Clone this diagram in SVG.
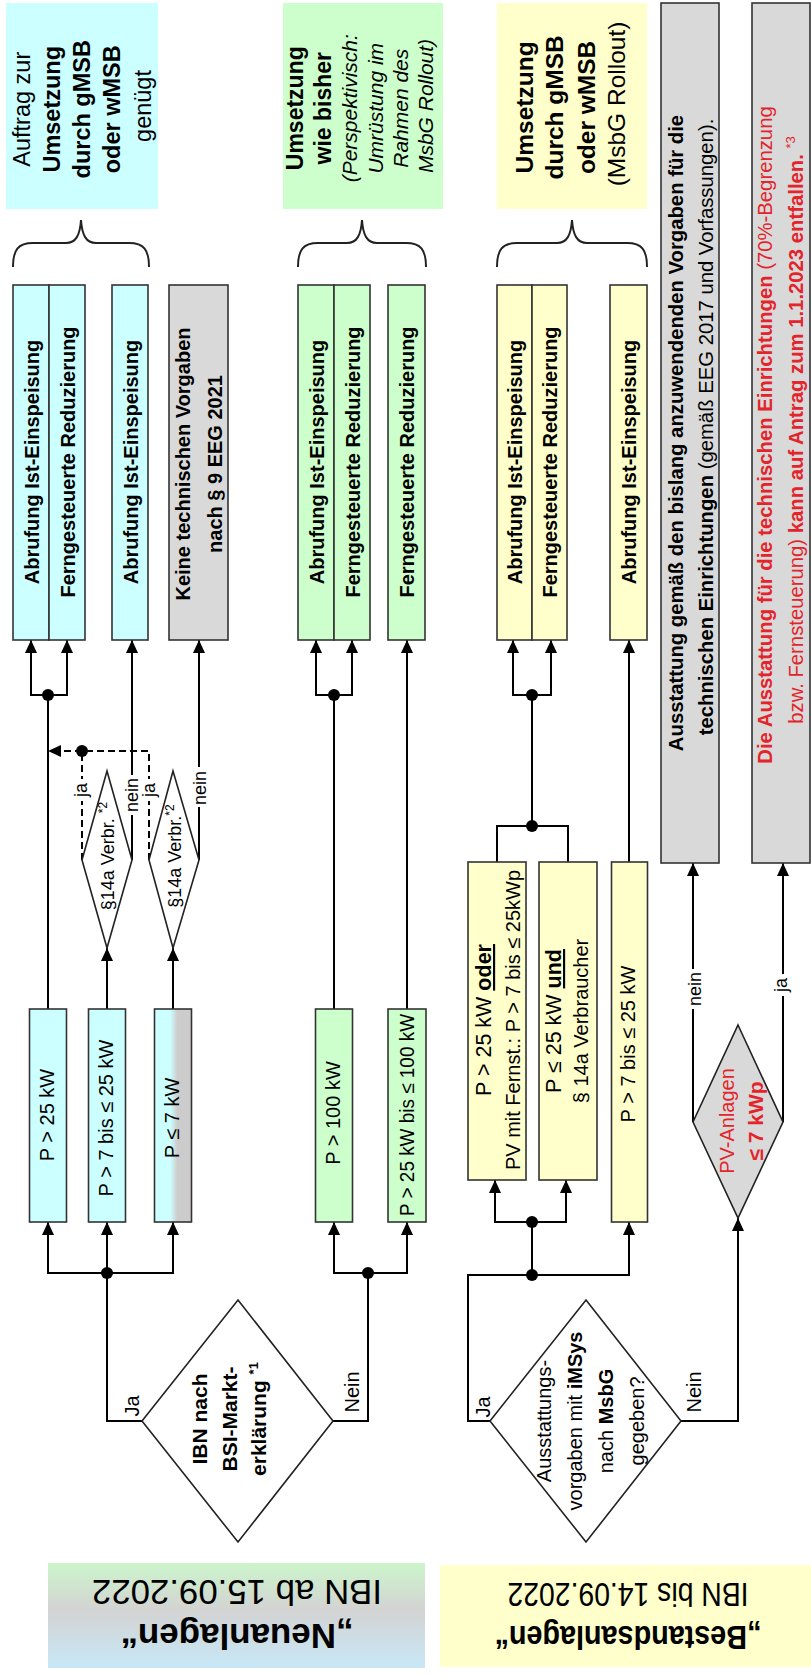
<svg xmlns="http://www.w3.org/2000/svg" width="811" height="1675" viewBox="0 0 811 1675">
<defs>
<style>
.t{font-family:"Liberation Sans",Arial,Helvetica,sans-serif;fill:#000}
.b{font-weight:bold}
.i{font-style:italic}
.r{fill:#e3242b}
.bx{stroke:#333;stroke-width:1.6}
.cy{fill:#ccffff}.gn{fill:#ccffcc}.ye{fill:#ffffcc}.gy{fill:#d9d9d9}
.ln{stroke:#000;stroke-width:2;fill:none}
.ar{marker-end:url(#ah)}
.ds{stroke-dasharray:7,4}
.dt{fill:#000}
.dm{stroke:#222;stroke-width:1.6;fill:#fff}
.wb{fill:#fff}
.br{stroke:#222;stroke-width:2;fill:none}
</style>
<marker id="ah" viewBox="0 0 13 12" refX="13" refY="6" markerWidth="13" markerHeight="12" markerUnits="userSpaceOnUse" orient="auto">
<path d="M0,0 L13,6 L0,12 z" fill="#000"/>
</marker>
<linearGradient id="gNeu" x1="0" y1="0" x2="0" y2="1">
<stop offset="0" stop-color="#ccf5cc"/>
<stop offset="0.45" stop-color="#d3d3d3"/>
<stop offset="1" stop-color="#c8e8f7"/>
</linearGradient>
<linearGradient id="gP7" x1="0" y1="0" x2="1" y2="0">
<stop offset="0" stop-color="#ccffff"/>
<stop offset="0.42" stop-color="#ccffff"/>
<stop offset="0.62" stop-color="#cccccc"/>
<stop offset="1" stop-color="#cccccc"/>
</linearGradient>
</defs>
<rect x="0" y="0" width="811" height="1675" fill="#fff"/>

<!-- Connectors -->
<g id="connectors">
<!-- Neuanlagen Ja branch -->
<path class="ln" d="M142,1421 H107 V1273"/>
<path class="ln ar" d="M107,1273 H48 V1222"/>
<path class="ln ar" d="M107,1273 V1222"/>
<path class="ln ar" d="M107,1273 H173 V1222"/>
<circle class="dt" cx="107" cy="1273" r="6"/>
<path class="ln" d="M48,1009 V695"/>
<path class="ln ar" d="M48,695 H31 V640"/>
<path class="ln ar" d="M48,695 H67 V640"/>
<circle class="dt" cx="48" cy="695" r="6"/>
<path class="ln ar" d="M107,1009 V948"/>
<path class="ln ar" d="M173,1009 V948"/>
<path class="ln ds" d="M82,860 V751"/>
<path class="ln ds ar" d="M149,860 V751 H48"/>
<circle class="dt" cx="82" cy="751" r="6"/>
<path class="ln ar" d="M132,860 V640"/>
<path class="ln ar" d="M199,860 V640"/>
<!-- Neuanlagen Nein branch -->
<path class="ln" d="M333,1421 H368 V1273"/>
<path class="ln ar" d="M368,1273 H334 V1222"/>
<path class="ln ar" d="M368,1273 H407 V1222"/>
<circle class="dt" cx="368" cy="1273" r="6"/>
<path class="ln" d="M334,1009 V695"/>
<path class="ln ar" d="M334,695 H316 V640"/>
<path class="ln ar" d="M334,695 H352 V640"/>
<circle class="dt" cx="334" cy="695" r="6"/>
<path class="ln ar" d="M407,1009 V640"/>
<!-- Bestandsanlagen Ja branch -->
<path class="ln ar" d="M490,1421 H468 V1275 H629 V1222"/>
<circle class="dt" cx="532" cy="1275" r="6"/>
<path class="ln" d="M532,1275 V1222"/>
<path class="ln ar" d="M532,1222 H495 V1180"/>
<path class="ln ar" d="M532,1222 H566 V1180"/>
<circle class="dt" cx="532" cy="1222" r="6"/>
<path class="ln" d="M497,862 V826 H568 V862"/>
<path class="ln" d="M532,826 V695"/>
<circle class="dt" cx="532" cy="826" r="6"/>
<path class="ln ar" d="M532,695 H513 V640"/>
<path class="ln ar" d="M532,695 H551 V640"/>
<circle class="dt" cx="532" cy="695" r="6"/>
<path class="ln ar" d="M629,862 V640"/>
<!-- Bestandsanlagen Nein branch -->
<path class="ln ar" d="M681,1421 H738 V1218"/>
<path class="ln ar" d="M693,1122 V863"/>
<path class="ln ar" d="M783,1122 V863"/>
<!-- labels -->
<text class="t" font-size="20" text-anchor="middle" transform="translate(0,1406) rotate(-90)"><tspan x="0" y="139">Ja</tspan></text>
<text class="t" font-size="20" text-anchor="middle" transform="translate(0,1392) rotate(-90)"><tspan x="0" y="359">Nein</tspan></text>
<text class="t" font-size="20" text-anchor="middle" transform="translate(0,1407) rotate(-90)"><tspan x="0" y="490">Ja</tspan></text>
<text class="t" font-size="20" text-anchor="middle" transform="translate(0,1392) rotate(-90)"><tspan x="0" y="701">Nein</tspan></text>
<rect class="wb" x="74" y="779" width="17" height="22"/>
<text class="t" font-size="18" text-anchor="middle" transform="translate(0,790) rotate(-90)"><tspan x="0" y="87">ja</tspan></text>
<rect class="wb" x="126" y="775" width="15" height="40"/>
<text class="t" font-size="18" text-anchor="middle" transform="translate(0,795) rotate(-90)"><tspan x="0" y="138">nein</tspan></text>
<rect class="wb" x="143" y="779" width="16" height="22"/>
<text class="t" font-size="18" text-anchor="middle" transform="translate(0,790) rotate(-90)"><tspan x="0" y="155">ja</tspan></text>
<rect class="wb" x="193" y="767" width="15" height="40"/>
<text class="t" font-size="18" text-anchor="middle" transform="translate(0,788) rotate(-90)"><tspan x="0" y="206">nein</tspan></text>
<rect class="wb" x="686" y="969" width="17" height="40"/>
<text class="t" font-size="18" text-anchor="middle" transform="translate(0,989) rotate(-90)"><tspan x="0" y="701">nein</tspan></text>
<rect class="wb" x="774" y="974" width="16" height="22"/>
<text class="t" font-size="18" text-anchor="middle" transform="translate(0,985) rotate(-90)"><tspan x="0" y="787">ja</tspan></text>
</g>

<!-- Braces -->
<g id="braces">
<path class="br" d="M13,267 C13,250 18,243 33,243 L66,243 C76,243 80,235 81,220 C82,235 86,243 96,243 L129,243 C144,243 149,250 149,267"/>
<path class="br" d="M298,267 C298,250 303,243 318,243 L347,243 C357,243 361,235 362,220 C363,235 367,243 377,243 L406,243 C421,243 426,250 426,267"/>
<path class="br" d="M497,267 C497,250 502,243 517,243 L557,243 C567,243 571,235 572,220 C573,235 577,243 587,243 L627,243 C642,243 647,250 647,267"/>
</g>

<!-- Top labels -->
<g id="label-cyan">
<rect x="6" y="3" width="152" height="206" class="cy"/>
<text class="t" font-size="23.5" text-anchor="middle" transform="translate(0,106) rotate(-90)">
<tspan x="0" y="30">Auftrag zur</tspan>
<tspan x="0" y="60" class="b">Umsetzung</tspan>
<tspan x="0" y="90" class="b">durch gMSB</tspan>
<tspan x="0" y="120" class="b">oder wMSB</tspan>
<tspan x="0" y="151">genügt</tspan>
</text>
</g>
<g id="label-green">
<rect x="283" y="3" width="160" height="206" class="gn"/>
<text class="t" text-anchor="middle" transform="translate(0,106) rotate(-90)">
<tspan x="0" y="303" class="b" font-size="23">Umsetzung</tspan>
<tspan x="0" y="331" class="b" font-size="23">wie bisher</tspan>
<tspan x="0" y="357" class="i" font-size="21">(Perspektivisch:</tspan>
<tspan x="0" y="383" class="i" font-size="21">Umrüstung im</tspan>
<tspan x="0" y="408" class="i" font-size="21">Rahmen des</tspan>
<tspan x="0" y="433" class="i" font-size="21">MsbG Rollout)</tspan>
</text>
</g>
<g id="label-yellow">
<rect x="497" y="3" width="150" height="206" class="ye"/>
<text class="t" font-size="24.5" text-anchor="middle" transform="translate(0,104) rotate(-90)">
<tspan x="0" y="533" class="b">Umsetzung</tspan>
<tspan x="0" y="563" class="b">durch gMSB</tspan>
<tspan x="0" y="595" class="b">oder wMSB</tspan>
<tspan x="0" y="625">(MsbG Rollout)</tspan>
</text>
</g>

<!-- Outcome boxes -->
<g id="out-cyan-abruf1"><rect class="bx cy" x="13" y="285" width="36" height="355"/>
<text class="t b" font-size="20" text-anchor="middle" transform="translate(0,462) rotate(-90)"><tspan x="0" y="38.5">Abrufung Ist-Einspeisung</tspan></text></g>
<g id="out-cyan-fern1"><rect class="bx cy" x="49" y="285" width="36" height="355"/>
<text class="t b" font-size="20" text-anchor="middle" transform="translate(0,462) rotate(-90)"><tspan x="0" y="74.5">Ferngesteuerte Reduzierung</tspan></text></g>
<g id="out-cyan-abruf2"><rect class="bx cy" x="112" y="285" width="36" height="355"/>
<text class="t b" font-size="20" text-anchor="middle" transform="translate(0,462) rotate(-90)"><tspan x="0" y="137.5">Abrufung Ist-Einspeisung</tspan></text></g>
<g id="out-keine"><rect class="bx gy" x="169" y="285" width="59" height="355"/>
<text class="t b" font-size="20" text-anchor="middle" transform="translate(0,464) rotate(-90)"><tspan x="0" y="190">Keine technischen Vorgaben</tspan><tspan x="0" y="222">nach § 9 EEG 2021</tspan></text></g>
<g id="out-green-abruf"><rect class="bx gn" x="298" y="285" width="36" height="355"/>
<text class="t b" font-size="20" text-anchor="middle" transform="translate(0,462) rotate(-90)"><tspan x="0" y="323.5">Abrufung Ist-Einspeisung</tspan></text></g>
<g id="out-green-fern1"><rect class="bx gn" x="334" y="285" width="36" height="355"/>
<text class="t b" font-size="20" text-anchor="middle" transform="translate(0,462) rotate(-90)"><tspan x="0" y="359.5">Ferngesteuerte Reduzierung</tspan></text></g>
<g id="out-green-fern2"><rect class="bx gn" x="388" y="285" width="37" height="355"/>
<text class="t b" font-size="20" text-anchor="middle" transform="translate(0,462) rotate(-90)"><tspan x="0" y="414">Ferngesteuerte Reduzierung</tspan></text></g>
<g id="out-yellow-abruf1"><rect class="bx ye" x="497" y="285" width="35" height="355"/>
<text class="t b" font-size="20" text-anchor="middle" transform="translate(0,462) rotate(-90)"><tspan x="0" y="522">Abrufung Ist-Einspeisung</tspan></text></g>
<g id="out-yellow-fern"><rect class="bx ye" x="532" y="285" width="35" height="355"/>
<text class="t b" font-size="20" text-anchor="middle" transform="translate(0,462) rotate(-90)"><tspan x="0" y="557">Ferngesteuerte Reduzierung</tspan></text></g>
<g id="out-yellow-abruf2"><rect class="bx ye" x="610" y="285" width="37" height="355"/>
<text class="t b" font-size="20" text-anchor="middle" transform="translate(0,462) rotate(-90)"><tspan x="0" y="636">Abrufung Ist-Einspeisung</tspan></text></g>

<g id="out-ausstattung"><rect class="bx gy" x="661" y="3" width="58" height="860"/>
<text class="t" font-size="20.3" text-anchor="middle" transform="translate(0,433) rotate(-90)"><tspan x="0" y="683" class="b">Ausstattung gemäß den bislang anzuwendenden Vorgaben für die</tspan></text>
<text class="t" font-size="20.3" text-anchor="middle" transform="translate(0,427) rotate(-90)"><tspan x="0" y="713"><tspan class="b">technischen Einrichtungen</tspan> (gemäß EEG 2017 und Vorfassungen).</tspan></text></g>
<g id="out-entfallen"><rect class="bx gy" x="752" y="3" width="58" height="860"/>
<text class="t r" font-size="20.3" text-anchor="middle" transform="translate(0,435) rotate(-90)"><tspan x="0" y="772"><tspan class="b">Die Ausstattung für die technischen Einrichtungen</tspan> (70%-Begrenzung</tspan></text>
<text class="t r" font-size="20.3" text-anchor="middle" transform="translate(0,430) rotate(-90)"><tspan x="0" y="803">bzw. Fernsteuerung) <tspan class="b">kann auf Antrag zum 1.1.2023 entfallen.</tspan> <tspan font-size="13" dy="-8">*3</tspan></tspan></text></g>

<!-- P boxes -->
<g id="p-gt25"><rect class="bx cy" x="29.5" y="1009" width="37" height="213"/>
<text class="t" font-size="20" text-anchor="middle" transform="translate(0,1115) rotate(-90)"><tspan x="0" y="54">P &gt; 25 kW</tspan></text></g>
<g id="p-7-25"><rect class="bx cy" x="88.5" y="1009" width="37" height="213"/>
<text class="t" font-size="20" text-anchor="middle" transform="translate(0,1118) rotate(-90)"><tspan x="0" y="113">P &gt; 7 bis ≤ 25 kW</tspan></text></g>
<g id="p-le7"><rect class="bx" fill="url(#gP7)" x="154.5" y="1009" width="37" height="213"/>
<text class="t" font-size="20" text-anchor="middle" transform="translate(0,1118) rotate(-90)"><tspan x="0" y="179">P ≤ 7 kW</tspan></text></g>
<g id="p-gt100"><rect class="bx gn" x="315.5" y="1009" width="37" height="213"/>
<text class="t" font-size="20" text-anchor="middle" transform="translate(0,1113) rotate(-90)"><tspan x="0" y="340">P &gt; 100 kW</tspan></text></g>
<g id="p-25-100"><rect class="bx gn" x="388" y="1009" width="38" height="213"/>
<text class="t" font-size="20" text-anchor="middle" transform="translate(0,1115) rotate(-90)"><tspan x="0" y="414" textLength="202" lengthAdjust="spacingAndGlyphs">P &gt; 25 kW bis ≤ 100 kW</tspan></text></g>
<g id="p-best-a"><rect class="bx ye" x="468" y="862" width="58" height="318"/>
<text class="t" text-anchor="middle" transform="translate(0,1020) rotate(-90)"><tspan x="0" y="491" font-size="21.5">P &gt; 25 kW <tspan class="b" text-decoration="underline">oder</tspan></tspan><tspan x="0" y="520" font-size="20">PV mit Fernst.: P &gt; 7 bis ≤ 25kWp</tspan></text></g>
<g id="p-best-b"><rect class="bx ye" x="539" y="862" width="58" height="318"/>
<text class="t" text-anchor="middle" transform="translate(0,1021) rotate(-90)"><tspan x="0" y="561" font-size="21.5">P ≤ 25 kW <tspan class="b" text-decoration="underline">und</tspan></tspan><tspan x="0" y="588" font-size="20">§ 14a Verbraucher</tspan></text></g>
<g id="p-best-c"><rect class="bx ye" x="611.5" y="862" width="36" height="360"/>
<text class="t" font-size="20" text-anchor="middle" transform="translate(0,1044) rotate(-90)"><tspan x="0" y="635">P &gt; 7 bis ≤ 25 kW</tspan></text></g>

<!-- Decisions -->
<g id="d-14a-1"><polygon class="dm" points="107,771 132,860 107,948 82,860"/>
<text class="t" font-size="18" text-anchor="middle" transform="translate(0,856) rotate(-90)"><tspan x="0" y="114">§14a Verbr. <tspan font-size="12" dy="-7">*2</tspan></tspan></text></g>
<g id="d-14a-2"><polygon class="dm" points="173,771 199,860 173,948 149,860"/>
<text class="t" font-size="18" text-anchor="middle" transform="translate(0,856) rotate(-90)"><tspan x="0" y="181">§14a Verbr.<tspan font-size="12" dy="-7">*2</tspan></tspan></text></g>
<g id="d-bsi"><polygon class="dm" points="238,1300 333,1421 238,1542 142,1421"/>
<text class="t b" font-size="21" text-anchor="middle" transform="translate(0,1419) rotate(-90)"><tspan x="0" y="207">IBN nach</tspan><tspan x="0" y="237">BSI-Markt-</tspan><tspan x="0" y="266">erklärung <tspan font-size="13" dy="-8">*1</tspan></tspan></text></g>
<g id="d-msbg"><polygon class="dm" points="586,1300 681,1421 586,1542 490,1421"/>
<text class="t" font-size="20" text-anchor="middle" transform="translate(0,1421) rotate(-90)"><tspan x="0" y="551">Ausstattungs-</tspan><tspan x="0" y="582">vorgaben mit <tspan class="b">iMSys</tspan></tspan><tspan x="0" y="613">nach <tspan class="b">MsbG</tspan></tspan><tspan x="0" y="644">gegeben?</tspan></text></g>
<g id="d-pv"><polygon class="dm" style="fill:#d9d9d9" points="738,1025 783,1122 738,1218 693,1122"/>
<text class="t r" text-anchor="middle" transform="translate(0,1121) rotate(-90)"><tspan x="0" y="734" font-size="20">PV-Anlagen</tspan><tspan x="0" y="763" font-size="21" class="b">≤ 7 kWp</tspan></text></g>

<!-- Bottom labels -->
<g id="label-neuanlagen">
<rect x="48" y="1563" width="377" height="105" fill="url(#gNeu)"/>
<text class="t b" font-size="35" text-anchor="middle" transform="translate(237,1624) rotate(180)" textLength="233" lengthAdjust="spacingAndGlyphs">„Neuanlagen“</text>
<text class="t" font-size="35" text-anchor="middle" transform="translate(237,1580) rotate(180)" textLength="290" lengthAdjust="spacingAndGlyphs">IBN ab 15.09.2022</text>
</g>
<g id="label-bestandsanlagen">
<rect x="440" y="1565" width="371" height="102" class="ye"/>
<text class="t b" font-size="33" text-anchor="middle" transform="translate(628,1626) rotate(180)" textLength="267" lengthAdjust="spacingAndGlyphs">„Bestandsanlagen“</text>
<text class="t" font-size="33" text-anchor="middle" transform="translate(628,1583) rotate(180)" textLength="241" lengthAdjust="spacingAndGlyphs">IBN bis 14.09.2022</text>
</g>
</svg>
